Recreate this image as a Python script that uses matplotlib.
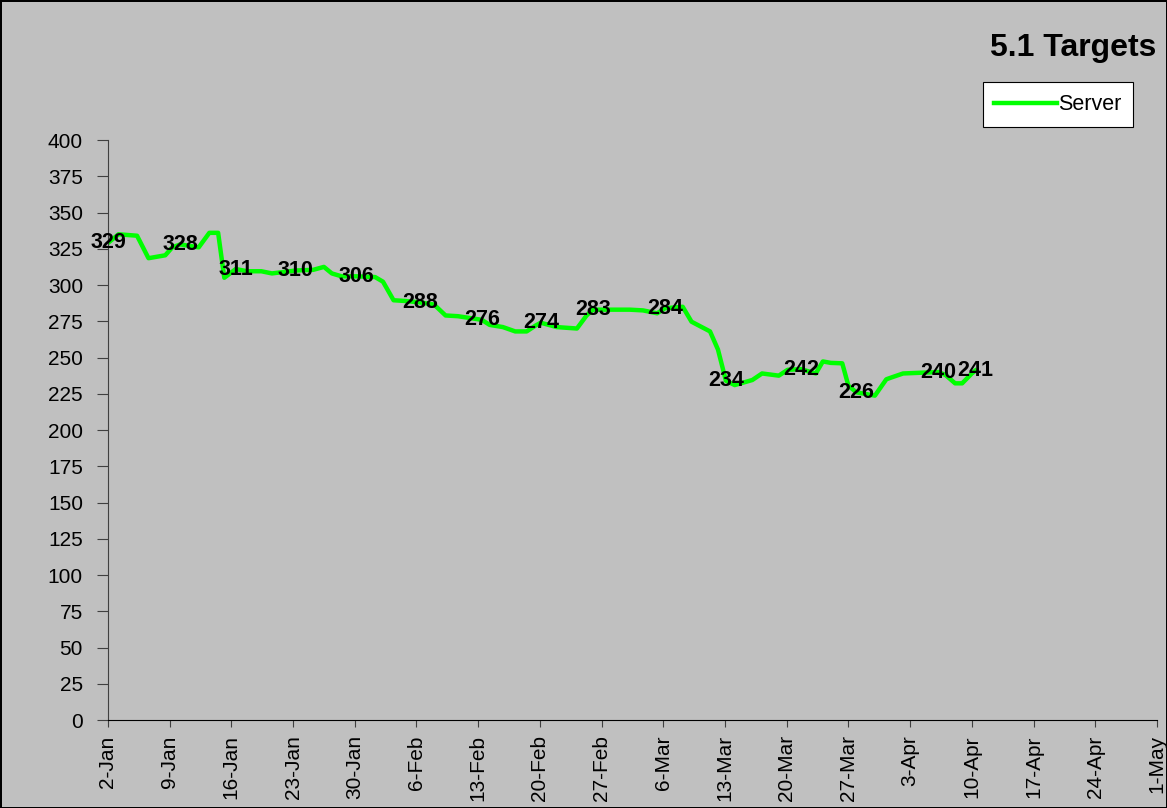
import matplotlib.pyplot as plt
from matplotlib.lines import Line2D

# days counted from 2-Jan
days = [0, 1.2, 3.3, 4.6, 6.5, 7.3, 8.2, 10.3, 11.5, 12.5, 13.2, 14.5, 15.8, 17.4,
        18.6, 21.3, 23.3, 24.5, 25.4, 26.5, 28.2, 30.3, 31.2, 32.4, 33.7, 35.4,
        37.0, 38.3, 39.7, 42.4, 43.3, 44.8, 46.2, 47.5, 48.5, 49.1, 50.9, 53.2,
        54.3, 55.0, 59.2, 60.7, 62.3, 63.2, 65.2, 66.2, 68.3, 69.2, 70.1, 71.1,
        73.1, 74.2, 76.1, 77.1, 78.6, 80.3, 81.1, 82.0, 83.3, 84.0, 84.9, 87.0,
        88.3, 89.0, 90.2, 94.2, 95.0, 96.1, 96.9, 98.0, 98.4]
server = [329, 335, 334, 318.5, 320.5, 326, 328, 326, 336, 336, 305, 311, 309.5, 309.5,
          308, 310, 310.5, 312.5, 308, 306, 306, 305.5, 302.3, 289.5, 289, 288,
          286.5, 279, 278.5, 276, 272.5, 271, 268, 268, 272, 274, 271, 270,
          279, 283, 283, 282.5, 280.5, 284, 285, 274.7, 268, 255.5, 234, 231,
          234.5, 239, 237.5, 241.5, 242, 239, 247.3, 246.3, 246, 230.5, 226, 223.7,
          235, 236.5, 239, 240, 238, 232.2, 232.2, 239, 241]
# points that carry a value label
labelled = [0, 6, 11, 15, 20, 25, 29, 35, 39, 43, 48, 54, 60, 65, 70]

tick_days = list(range(0, 120, 7))
tick_labels = ['2-Jan', '9-Jan', '16-Jan', '23-Jan', '30-Jan', '6-Feb', '13-Feb',
               '20-Feb', '27-Feb', '6-Mar', '13-Mar', '20-Mar', '27-Mar', '3-Apr',
               '10-Apr', '17-Apr', '24-Apr', '1-May']

plt.rcParams['font.family'] = ['Liberation Sans', 'DejaVu Sans']
grey = '#C0C0C0'

fig = plt.figure(figsize=(11.67, 8.08), dpi=100, facecolor=grey,
                 edgecolor='black', linewidth=2)
ax = fig.add_axes([0.0925, 0.1089, 0.8989, 0.7178])
ax.set_facecolor(grey)

ax.plot(days, server, color='#00FF00', linewidth=3.2, label='Server', zorder=2)
for i in labelled:
    ax.text(days[i], server[i], str(round(server[i])), ha='center', va='center',
            fontsize=15.5, fontweight='bold', zorder=3)

ax.set_xlim(0, 119)
ax.set_ylim(0, 400)
ax.set_yticks(range(0, 401, 25))
ax.set_xticks(tick_days)
ax.set_xticklabels(tick_labels, rotation=90)
ax.tick_params(axis='both', labelsize=15, direction='out', length=8, width=0.8,
               color='#404040')
ax.tick_params(axis='y', pad=10)
ax.tick_params(axis='x', length=5, pad=6)
for side in ['top', 'right']:
    ax.spines[side].set_visible(False)
ax.spines['left'].set_color('#404040')
ax.spines['bottom'].set_color('black')

fig.text(0.991, 0.94, '5.1 Targets', ha='right', va='center', fontsize=23,
         fontweight='bold')

handle = Line2D([], [], color='#00FF00', linewidth=3.2)
leg = fig.legend([handle], ['Server'], loc='upper right',
                 bbox_to_anchor=(0.971, 0.898), fontsize=15.5, frameon=True,
                 fancybox=False, framealpha=1, handlelength=2.9,
                 handletextpad=0.05, borderpad=0.55, borderaxespad=0)
leg.get_frame().set_edgecolor('black')
leg.get_frame().set_facecolor('white')
leg.get_frame().set_linewidth(0.8)

fig.savefig('out.png', dpi=100, facecolor=grey, edgecolor='black')
